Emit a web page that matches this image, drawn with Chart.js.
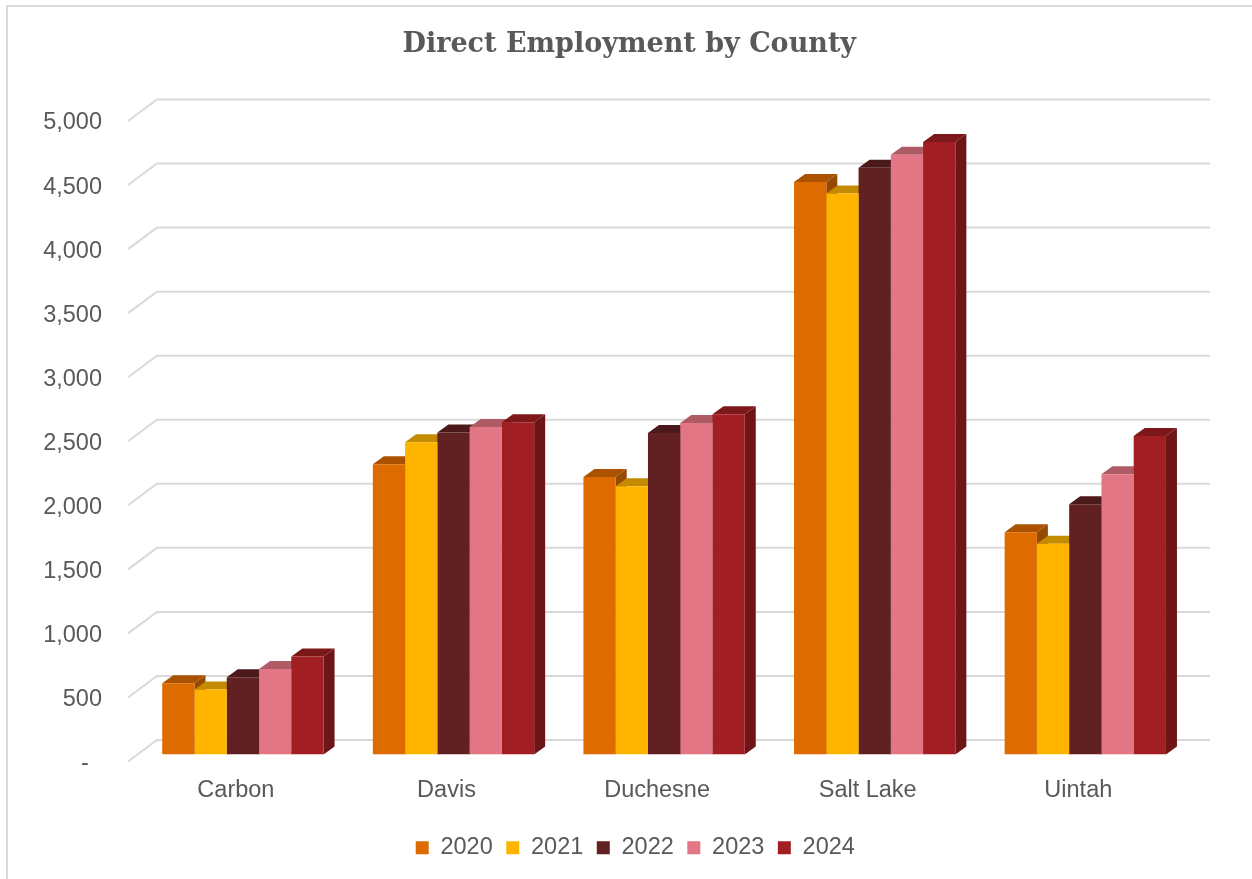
<!DOCTYPE html>
<html>
<head>
<meta charset="utf-8">
<title>Direct Employment by County</title>
<script src="https://cdn.jsdelivr.net/npm/chart.js@4.4.1/dist/chart.umd.min.js"></script>
<style>
  html, body { margin: 0; padding: 0; background: #fff; }
  #wrap { width: 1252px; height: 879px; }
</style>
</head>
<body>
<div id="wrap"><canvas id="employmentChart" width="1252" height="879"></canvas></div>
<script>
// data
const counties = ['Carbon', 'Davis', 'Duchesne', 'Salt Lake', 'Uintah'];
const years = ['2020', '2021', '2022', '2023', '2024'];
const jobs2020 = [557, 2266, 2166, 4469, 1734];
const jobs2021 = [508, 2437, 2094, 4380, 1646];
const jobs2022 = [604, 2513, 2510, 4580, 1953];
const jobs2023 = [667, 2557, 2588, 4682, 2187];
const jobs2024 = [766, 2594, 2656, 4781, 2487];
const yTicks = [0, 500, 1000, 1500, 2000, 2500, 3000, 3500, 4000, 4500, 5000];

const seriesColors = ['#DD6B00', '#FFB500', '#612022', '#E27685', '#A11F22'];
const textColor = '#595959';
const gridColor = '#d9d9d9';
const sansFont = "'Liberation Sans', Arial, sans-serif";

// depth of the fake 3D box
const WALL_BACK = { dx: 19.4, dy: -14.5 };
const WALL_FRONT = { dx: -9.6, dy: 7 };
const BAR_DEPTH = { dx: 11, dy: -8 };

function shade(hex, f) {
    const n = parseInt(hex.slice(1), 16);
    const r = Math.round(((n >> 16) & 255) * f);
    const g = Math.round(((n >> 8) & 255) * f);
    const b = Math.round((n & 255) * f);
    return `rgb(${r}, ${g}, ${b})`;
}

const frameAndFaces = {
    id: 'frameAndFaces',
    afterLayout(chart) {
        // title and legend are centred on the whole frame, not on the plot
        chart.titleBlock.left += 34;
        chart.titleBlock.right += 34;
        chart.legend.left += 40;
        chart.legend.right += 40;
    },
    beforeDraw(chart) {
        const ctx = chart.ctx;
        ctx.save();
        ctx.fillStyle = '#ffffff';
        ctx.fillRect(0, 0, chart.width, chart.height);
        // outer chart border (only top and left show in the picture)
        ctx.fillStyle = gridColor;
        ctx.fillRect(6, 5, chart.width, 2);
        ctx.fillRect(6, 5, 2, chart.height);
        ctx.restore();
    },
    beforeDatasetsDraw(chart) {
        const ctx = chart.ctx;
        const area = chart.chartArea;
        const y = chart.scales.y;
        ctx.save();

        // back wall + side wall gridlines
        ctx.strokeStyle = gridColor;
        ctx.lineWidth = 2;
        yTicks.forEach(v => {
            const py = y.getPixelForValue(v);
            ctx.beginPath();
            ctx.moveTo(area.left + WALL_FRONT.dx, py + WALL_FRONT.dy);
            ctx.lineTo(area.left + WALL_BACK.dx, py + WALL_BACK.dy);
            ctx.lineTo(area.right + WALL_BACK.dx, py + WALL_BACK.dy);
            ctx.stroke();
        });

        // top and side faces of every bar, left to right
        counties.forEach((c, j) => {
            chart.data.datasets.forEach((ds, i) => {
                const bar = chart.getDatasetMeta(i).data[j];
                const l = bar.x - bar.width / 2;
                const r = bar.x + bar.width / 2;
                const t = bar.y;
                const b = bar.base;
                const base = seriesColors[i];

                ctx.fillStyle = shade(base, 0.68);
                ctx.beginPath();
                ctx.moveTo(r, t);
                ctx.lineTo(r + BAR_DEPTH.dx, t + BAR_DEPTH.dy);
                ctx.lineTo(r + BAR_DEPTH.dx, b + BAR_DEPTH.dy);
                ctx.lineTo(r, b);
                ctx.closePath();
                ctx.fill();

                ctx.fillStyle = shade(base, 0.77);
                ctx.beginPath();
                ctx.moveTo(l, t);
                ctx.lineTo(l + BAR_DEPTH.dx, t + BAR_DEPTH.dy);
                ctx.lineTo(r + BAR_DEPTH.dx, t + BAR_DEPTH.dy);
                ctx.lineTo(r, t);
                ctx.closePath();
                ctx.fill();
            });
        });
        ctx.restore();
    }
};

const allSeries = [jobs2020, jobs2021, jobs2022, jobs2023, jobs2024];

const ctx = document.getElementById('employmentChart').getContext('2d');
new Chart(ctx, {
    type: 'bar',
    data: {
        labels: counties,
        datasets: years.map((yr, i) => ({
            label: yr,
            data: allSeries[i],
            backgroundColor: seriesColors[i],
            borderWidth: 0,
            categoryPercentage: 0.766,
            barPercentage: 1.0
        }))
    },
    options: {
        responsive: false,
        animation: false,
        devicePixelRatio: 1,
        layout: { padding: { left: 0, right: 61.4, top: 0, bottom: 9.5 } },
        scales: {
            x: {
                grid: { display: false, drawTicks: false },
                border: { display: false },
                ticks: {
                    color: textColor,
                    font: { family: sansFont, size: 23.5 },
                    padding: 22,
                    labelOffset: -7,
                    maxRotation: 0
                },
                afterFit(scale) { scale.height = 68; }
            },
            y: {
                min: 0,
                max: 5000,
                grid: { display: false, drawTicks: false },
                border: { display: false },
                ticks: {
                    stepSize: 500,
                    color: textColor,
                    font: { family: sansFont, size: 23.5 },
                    padding: 35.6,
                    labelOffset: 9,
                    callback: v => v === 0 ? '-  ' : v.toLocaleString('en-US')
                },
                afterFit(scale) { scale.width = 137.6; }
            }
        },
        plugins: {
            title: {
                display: true,
                text: 'Direct Employment by County',
                color: textColor,
                font: { family: "'DejaVu Serif', 'Liberation Serif', serif", size: 27, weight: 'bold' },
                padding: { top: 28.8, bottom: 52.8 }
            },
            legend: {
                position: 'bottom',
                labels: {
                    color: textColor,
                    font: { family: sansFont, size: 23.5 },
                    boxWidth: 13,
                    boxHeight: 13,
                    padding: 13.5
                }
            },
            tooltip: { enabled: false }
        }
    },
    plugins: [frameAndFaces]
});
</script>
</body>
</html>
